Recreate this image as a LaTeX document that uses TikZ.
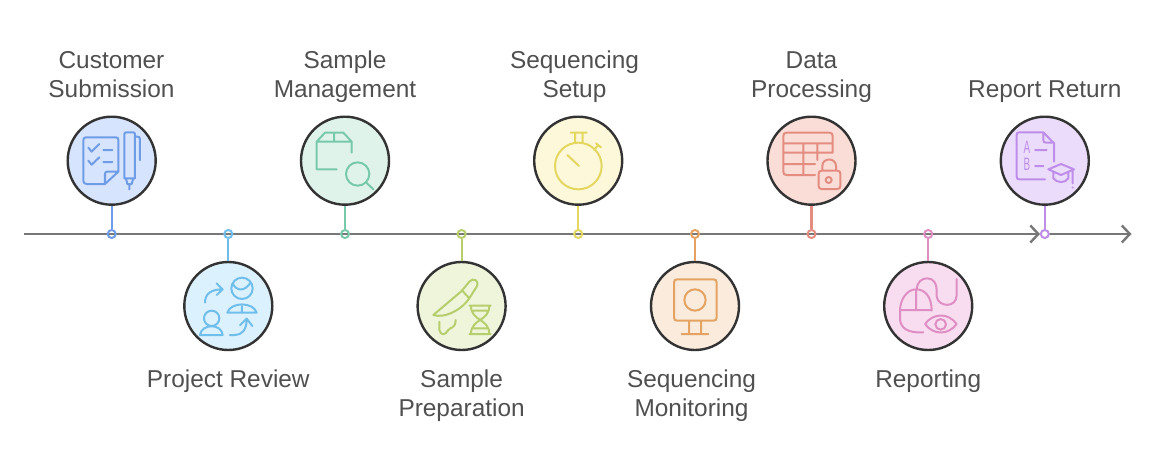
\documentclass[tikz,border=0pt]{standalone}
\usepackage{fontspec}
\setmainfont{Liberation Sans}
\usetikzlibrary{arrows.meta}
\definecolor{bluef}{HTML}{D6E4FD}\definecolor{blues}{HTML}{6F9CE6}
\definecolor{cyanf}{HTML}{DBF1FD}\definecolor{cyans}{HTML}{70BEEB}
\definecolor{greenf}{HTML}{DFF3EB}\definecolor{greens}{HTML}{78C9A9}
\definecolor{limef}{HTML}{EEF5DB}\definecolor{limes}{HTML}{B6CE6C}
\definecolor{yelf}{HTML}{FDF8D9}\definecolor{yels}{HTML}{E3D760}
\definecolor{orf}{HTML}{FAEBDC}\definecolor{ors}{HTML}{E4A362}
\definecolor{redf}{HTML}{FBDDD8}\definecolor{reds}{HTML}{E38D80}
\definecolor{pinkf}{HTML}{F8DDF0}\definecolor{pinks}{HTML}{DF8EC4}
\definecolor{purf}{HTML}{EBDCFB}\definecolor{purs}{HTML}{BE8DEA}
\definecolor{txt}{HTML}{505050}
\definecolor{axisc}{HTML}{777777}
\definecolor{rim}{HTML}{333333}
\tikzset{
  x=1pt,y=-1pt,
  badge/.style={circle,draw=rim,fill=#1,minimum size=88pt,inner sep=0pt,line width=2.4pt},
  stage/.style={circle,draw=#1,fill=none,minimum size=8pt,inner sep=0pt,line width=2pt},
  link/.style={draw=#1,line width=2.2pt},
  axisline/.style={draw=axisc,line width=2.4pt,-{Straight Barb[length=8pt,width=17pt,line width=2.4pt]}},
  label/.style={align=center,text=txt,inner sep=0pt,font=\fontsize{24.4}{29}\selectfont},
  icon/.style={draw=#1,line width=2pt,line cap=round,line join=round,fill=none},
  grade/.style={text=purs,inner sep=0pt,xscale=0.55,font=\fontsize{18}{18}\selectfont},
  zoomed/.style={x=0.33333pt,y=-0.33333pt},
}
\begin{document}
\begin{tikzpicture}
\useasboundingbox[fill=white] (0,0) rectangle (1152,466);

% axis
\coordinate (axs) at (24,234);
\coordinate (axm) at (1040,234);
\coordinate (axe) at (1131.5,234);
\draw[axisline] (axs) -- (axm);
\draw[axisline] (axm) -- (axe);

% badges
\node[badge=bluef] (c1) at (111.7,160.7) {};
\node[badge=cyanf] (c2) at (228.3,306) {};
\node[badge=greenf] (c3) at (345,160.7) {};
\node[badge=limef] (c4) at (461.6,306) {};
\node[badge=yelf] (c5) at (578.2,160.7) {};
\node[badge=orf] (c6) at (695,306) {};
\node[badge=redf] (c7) at (811.5,160.7) {};
\node[badge=pinkf] (c8) at (928.2,306) {};
\node[badge=purf] (c9) at (1044.8,160.7) {};

% stage dots
\node[stage=blues] (d1) at (111.7,234) {};
\node[stage=cyans] (d2) at (228.3,234) {};
\node[stage=greens] (d3) at (345,234) {};
\node[stage=limes] (d4) at (461.6,234) {};
\node[stage=yels] (d5) at (578.2,234) {};
\node[stage=ors] (d6) at (695,234) {};
\node[stage=reds] (d7) at (811.5,234) {};
\node[stage=pinks] (d8) at (928.2,234) {};
\node[stage=purs,fill=white] (d9) at (1044.8,234) {};

% connectors
\draw[link=blues] (c1) -- (d1);
\draw[link=cyans] (c2) -- (d2);
\draw[link=greens] (c3) -- (d3);
\draw[link=limes] (c4) -- (d4);
\draw[link=yels] (c5) -- (d5);
\draw[link=ors] (c6) -- (d6);
\draw[link=reds] (c7) -- (d7);
\draw[link=pinks] (c8) -- (d8);
\draw[link=purs] (c9) -- (d9);

% labels
\node[label] (t1) at (111.5,77) {\strut Customer\\\strut Submission};
\node[label] (t2) at (228.3,381.9) {\strut Project Review};
\node[label] (t3) at (345,77) {\strut Sample\\\strut Management};
\node[label] (t4) at (461.6,396.4) {\strut Sample\\\strut Preparation};
\node[label] (t5) at (574.5,77) {\strut Sequencing\\\strut Setup};
\node[label] (t6) at (691.5,396.4) {\strut Sequencing\\\strut Monitoring};
\node[label] (t7) at (811.5,77) {\strut Data\\\strut Processing};
\node[label] (t8) at (928.2,381.9) {\strut Reporting};
\node[label] (t9) at (1044.8,91.5) {\strut Report Return};

% icon 1: checklist and pen
\begin{scope}[shift={(40,100)},zoomed]
\path[icon=blues]
  (195,252) -- (140,252) .. controls (133,252) and (130,248) .. (130,242) -- (130,120)
  .. controls (130,115) and (133,112) .. (138,112) -- (228,112) .. controls (233,112) and (235,115) .. (235,120)
  -- (235,215) -- (195,252) -- (195,222) .. controls (195,217) and (198,215) .. (202,215) -- (235,215)
  (145,143) -- (155,155) -- (178,132) (190,150) -- (217,150)
  (145,182) -- (155,194) -- (178,172) (190,186) -- (217,186)
  (253,235) -- (253,103) .. controls (253,99) and (255,97) .. (259,97) -- (279,97) .. controls (283,97) and (285,99) .. (285,103) -- (285,235) -- cycle
  (285,110) -- (293,110) .. controls (298,110) and (300,113) .. (300,118) -- (300,180)
  (258,235) -- (262,252) -- (275,252) -- (280,235) (268,252) -- (268,268);
\end{scope}

% icon 2: review people
\begin{scope}[shift={(40,100)},zoomed]
\path[icon=cyans]
  (495,608) .. controls (495,580) and (515,568) .. (548,568) (530,550) -- (548,568) -- (530,585)
  (606,565) circle[radius=32]
  (578,550) .. controls (590,575) and (615,575) .. (632,547)
  (562,638) .. controls (572,605) and (640,605) .. (650,638) -- cycle (606,620) -- (606,638)
  (515,655) circle[radius=23]
  (480,705) .. controls (485,670) and (545,670) .. (548,705) -- cycle
  (570,705) -- (585,705) .. controls (605,705) and (620,690) .. (620,658)
  (600,676) -- (620,656) -- (637,678);
\end{scope}

% icon 3: package and magnifier
\begin{scope}[shift={(280,100)},zoomed]
\path[icon=greens]
  (170,208) -- (110,208) -- (110,125) -- (135,98) -- (190,98) -- (215,125) -- (215,158)
  (110,125) -- (215,125) (162,98) -- (162,125)
  (233,222) circle[radius=35] (258,247) -- (280,268);
\end{scope}

% icon 4: scalpel and DNA
\begin{scope}[shift={(280,100)},zoomed]
\path[icon=limes]
  (460,645) -- (545,573) -- (568,545) .. controls (578,532) and (600,540) .. (590,560) -- (568,595)
  .. controls (540,635) and (490,655) .. (460,645) (545,570) -- (568,595)
  (478,665) -- (478,690) .. controls (482,708) and (497,705) .. (503,692) .. controls (510,680) and (526,688) .. (527,660)
  (568,617) -- (632,617) (568,702) -- (632,702)
  (573,617) .. controls (573,665) and (628,655) .. (628,702)
  (628,617) .. controls (628,665) and (573,655) .. (573,702)
  (580,632) -- (621,632) (580,685) -- (621,685);
\end{scope}

% icon 5: stopwatch
\begin{scope}[shift={(520,100)},zoomed]
\path[icon=yels]
  (175,198) circle[radius=70]
  (152,98) -- (200,98) (165,98) -- (165,128) (188,98) -- (188,128)
  (222,150) -- (235,135) (228,130) -- (243,142) (142,165) -- (177,198);
\end{scope}

% icon 6: monitor
\begin{scope}[shift={(520,100)},zoomed]
\path[icon=ors]
  (472,538) -- (580,538) .. controls (587,538) and (590,541) .. (590,548) -- (590,652) .. controls (590,659) and (587,662) .. (580,662)
  -- (472,662) .. controls (465,662) and (462,659) .. (462,652) -- (462,548) .. controls (462,541) and (465,538) .. (472,538) -- cycle
  (525,600) circle[radius=32]
  (507,662) -- (507,702) (543,662) -- (543,702) (485,702) -- (565,702);
\end{scope}

% icon 7: table and lock
\begin{scope}[shift={(760,100)},zoomed]
\path[icon=reds]
  (218,158) -- (218,108) .. controls (218,101) and (215,98) .. (208,98) -- (80,98) .. controls (73,98) and (70,101) .. (70,108)
  -- (70,215) .. controls (70,222) and (73,225) .. (80,225) -- (165,225)
  (70,130) -- (218,130) (70,158) -- (218,158) (70,192) -- (165,192)
  (130,130) -- (130,225) (172,130) -- (172,180)
  (185,212) -- (232,212) .. controls (238,212) and (241,215) .. (241,221) -- (241,258) .. controls (241,264) and (238,267) .. (232,267)
  -- (185,267) .. controls (179,267) and (176,264) .. (176,258) -- (176,221) .. controls (176,215) and (179,212) .. (185,212) -- cycle
  (187,212) -- (187,198) .. controls (187,172) and (228,172) .. (228,198) -- (228,212)
  (206,240) circle[radius=9];
\end{scope}

% icon 8: mouse and eye
\begin{scope}[shift={(760,100)},zoomed]
\path[icon=pinks]
  (515,632) .. controls (515,590) and (495,568) .. (468,568) .. controls (440,568) and (420,600) .. (420,632)
  -- (420,655) .. controls (420,685) and (445,700) .. (490,697)
  (420,630) -- (515,630) (468,568) -- (468,630)
  (470,568) .. controls (472,545) and (485,535) .. (502,535) .. controls (520,535) and (530,550) .. (530,570)
  -- (530,590) .. controls (535,622) and (590,625) .. (590,585) -- (590,537)
  (495,672) .. controls (520,638) and (565,638) .. (590,672) .. controls (565,706) and (520,706) .. (495,672) -- cycle
  (542,673) circle[radius=16];
\end{scope}

% icon 9: graded document and cap
\begin{scope}[shift={(980,100)},zoomed]
\path[icon=purs]
  (195,238) -- (118,238) .. controls (112,238) and (110,236) .. (110,230) -- (110,105) .. controls (110,99) and (112,97) .. (118,97)
  -- (190,97) -- (222,130) -- (222,185) (190,97) -- (190,120) .. controls (190,126) and (193,128) .. (198,128) -- (222,128)
  (165,150) -- (200,150) (165,198) -- (190,198)
  (205,208) -- (243,192) -- (282,208) -- (243,225) -- cycle
  (220,218) -- (220,235) .. controls (232,250) and (255,250) .. (265,235) -- (265,218)
  (278,210) -- (278,250) (278,262) -- (278,263);
\node[grade] (gradeA) at (141,142) {A};
\node[grade] (gradeB) at (141,193) {B};
\end{scope}
\end{tikzpicture}
\end{document}
